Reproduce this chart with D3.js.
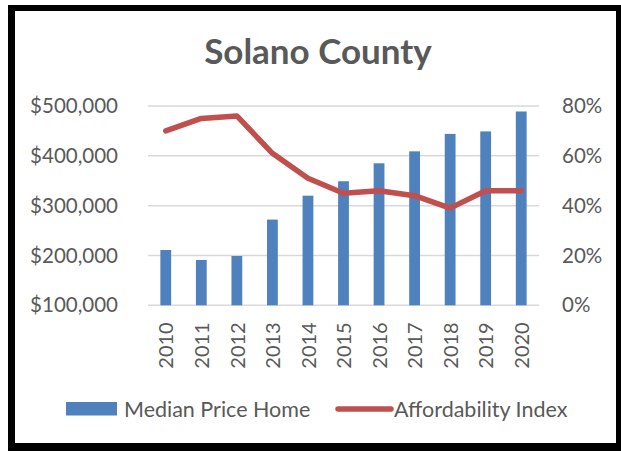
<!DOCTYPE html>
<html><head><meta charset="utf-8">
<script src="https://cdn.jsdelivr.net/npm/d3@7/dist/d3.min.js"></script>
<style>body{margin:0;background:#fff}svg{display:block}text{font-family:Lato,"Open Sans",sans-serif;fill:#595959}</style>
</head><body>
<svg id="c" width="621" height="451"></svg>
<script>
const years = ["2010","2011","2012","2013","2014","2015","2016","2017","2018","2019","2020"];
const medianPrice = [211000,191000,199000,272000,320000,349000,385000,409000,444000,449000,489000];
const affordability = [0.70,0.75,0.76,0.61,0.51,0.45,0.46,0.44,0.39,0.46,0.46];
const priceTicks = [100000,200000,300000,400000,500000];
const pctTicks = [0,0.2,0.4,0.6,0.8];
const title = "Solano County";
const seriesNames = ["Median Price Home","Affordability Index"];

const svg = d3.select("#c");
// border
svg.append("rect").attr("x",8).attr("y",5).attr("width",613).attr("height",446).attr("fill","#000");
svg.append("rect").attr("x",15).attr("y",11).attr("width",601).attr("height",432).attr("fill","#fff");

const L=148,R=539,T=106,B=305.3;
const xc = d3.scalePoint().domain(years).range([L,R]).padding(0.5);
const yL = d3.scaleLinear().domain([100000,500000]).range([B,T]);
const yR = d3.scaleLinear().domain([0,0.8]).range([B,T]);

svg.append("text").attr("x",318).attr("y",63.5).attr("text-anchor","middle")
  .style("font-weight","bold").style("font-size","35px").text(title);

// grid
svg.append("g").selectAll("line").data(priceTicks).join("line")
  .attr("x1",L).attr("x2",R).attr("y1",d=>yL(d)).attr("y2",d=>yL(d))
  .attr("stroke","#D9D9D9").attr("stroke-width",1.5);

// left axis
const fmt = d=>"$"+d3.format(",")(d);
const gl = svg.append("g").attr("transform",`translate(118,0)`)
  .call(d3.axisLeft(yL).tickValues(priceTicks).tickFormat(fmt).tickSize(0).tickPadding(0));
gl.select(".domain").remove();
gl.selectAll("text").style("font-size","20.5px").attr("fill","#595959").style("font-family","Lato");

const gr = svg.append("g").attr("transform",`translate(562,0)`)
  .call(d3.axisRight(yR).tickValues(pctTicks).tickFormat(d3.format(".0%")).tickSize(0).tickPadding(0));
gr.select(".domain").remove();
gr.selectAll("text").style("font-size","20.5px").attr("fill","#595959").style("font-family","Lato");

// bars
svg.append("g").selectAll("rect").data(years).join("rect")
  .attr("x",d=>xc(d)-5.4).attr("width",10.8)
  .attr("y",(d,i)=>yL(medianPrice[i])).attr("height",(d,i)=>B-yL(medianPrice[i]))
  .attr("fill","#4F81BD");

// line
const line = d3.line().x((d,i)=>xc(years[i])).y(d=>yR(d));
svg.append("path").datum(affordability).attr("d",line).attr("fill","none")
  .attr("stroke","#C0504D").attr("stroke-width",5.5).attr("stroke-linejoin","round").attr("stroke-linecap","round");

// x labels
const gx = svg.append("g").attr("transform",`translate(0,${B})`)
  .call(d3.axisBottom(xc).tickSize(0).tickPadding(0));
gx.select(".domain").remove();
gx.selectAll("text").style("font-size","20px").attr("fill","#595959").style("font-family","Lato")
  .attr("transform","rotate(-90)").attr("text-anchor","end").attr("x",-17).attr("y",0).attr("dy","0.36em");

// legend
const lg = svg.append("g");
lg.append("rect").attr("x",66).attr("y",402).attr("width",51).attr("height",13.5).attr("fill","#4F81BD");
lg.append("text").attr("x",124).attr("y",416.5).style("font-size","21.5px").text(seriesNames[0]);
lg.append("line").attr("x1",338).attr("x2",391).attr("y1",409).attr("y2",409)
  .attr("stroke","#C0504D").attr("stroke-width",5.5).attr("stroke-linecap","round");
lg.append("text").attr("x",394).attr("y",416.5).style("font-size","21.5px").text(seriesNames[1]);
</script>
</body></html>
